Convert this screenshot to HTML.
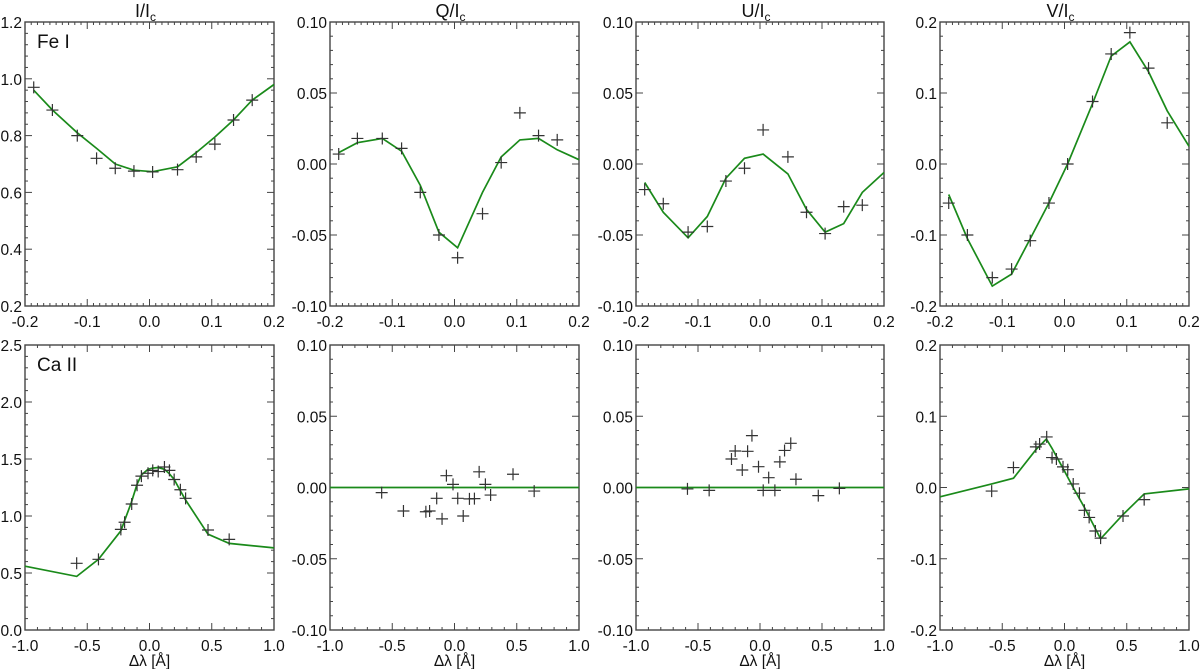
<!DOCTYPE html>
<html><head><meta charset="utf-8"><style>
body{margin:0;background:#fff;}
svg{display:block;font-family:"Liberation Sans",Arial,sans-serif;}
</style></head><body>
<svg id="fig" width="1200" height="669" viewBox="0 0 1200 669" xmlns="http://www.w3.org/2000/svg"></svg>
<script>
// ---- data ----
const feX = [-0.186,-0.156,-0.116,-0.085,-0.055,-0.025,0.005,0.045,0.075,0.105,0.135,0.165];
const feLineX = [-0.186,-0.156,-0.116,-0.085,-0.055,-0.025,0.005,0.045,0.075,0.105,0.135,0.165,0.2];
const feIobs = [0.97,0.89,0.80,0.72,0.685,0.675,0.672,0.68,0.725,0.77,0.855,0.925];
const feIfit = [0.96,0.89,0.81,0.755,0.70,0.678,0.673,0.69,0.74,0.795,0.855,0.925,0.98];
const feQobs = [0.007,0.018,0.018,0.011,-0.02,-0.05,-0.066,-0.035,0.001,0.036,0.02,0.017];
const feQfit = [0.008,0.015,0.018,0.009,-0.015,-0.048,-0.059,-0.02,0.005,0.017,0.018,0.01,0.003];
const feUobs = [-0.018,-0.028,-0.048,-0.044,-0.012,-0.003,0.024,0.005,-0.034,-0.049,-0.030,-0.029];
const feUfit = [-0.013,-0.034,-0.052,-0.037,-0.010,0.004,0.007,-0.007,-0.032,-0.048,-0.042,-0.020,-0.006];
const feVobs = [-0.055,-0.1,-0.16,-0.148,-0.108,-0.055,0.0,0.088,0.155,0.185,0.135,0.058];
const feVobsX = [-0.186,-0.156,-0.116,-0.085,-0.055,-0.025,0.005,0.045,0.075,0.105,0.135,0.165];
const feVfit = [-0.043,-0.105,-0.172,-0.155,-0.105,-0.055,0.0,0.085,0.152,0.172,0.13,0.075,0.025];

const caX = [-0.585,-0.41,-0.23,-0.2,-0.143,-0.1,-0.065,-0.012,0.026,0.07,0.12,0.16,0.198,0.248,0.29,0.47,0.64];
const caIobs = [0.585,0.62,0.883,0.945,1.105,1.27,1.35,1.375,1.40,1.39,1.43,1.40,1.32,1.23,1.155,0.877,0.795];
const caIlineX = [-1,-0.585,-0.41,-0.23,-0.2,-0.145,-0.1,-0.065,-0.012,0.026,0.07,0.12,0.16,0.198,0.248,0.29,0.47,0.64,1.0];
const caIfit = [0.56,0.47,0.62,0.87,0.96,1.12,1.28,1.36,1.41,1.42,1.425,1.41,1.37,1.32,1.22,1.14,0.84,0.76,0.72];
const caQobs = [-0.0036,-0.0165,-0.017,-0.0165,-0.0076,-0.022,0.0083,0.0022,-0.0076,-0.020,-0.008,-0.0078,0.011,0.0022,-0.0053,0.0093,-0.0025];
const caUobs = [-0.001,-0.002,0.020,0.0256,0.0123,0.0254,0.0364,0.0146,-0.002,0.0069,-0.002,0.018,0.026,0.031,0.0058,-0.0057,-0.0006];
const caFlatX = [-1,1];
const caQfit = [0,0];
const caUfit = [0,0];
const caVobs = [-0.005,0.028,0.057,0.061,0.071,0.042,0.040,0.029,0.025,0.005,-0.008,-0.032,-0.042,-0.061,-0.071,-0.040,-0.017];
const caVlineX = [-1,-0.585,-0.41,-0.23,-0.145,-0.1,-0.012,0.07,0.16,0.29,0.47,0.64,1.0];
const caVfit = [-0.013,0.005,0.013,0.053,0.068,0.055,0.027,0.0,-0.028,-0.072,-0.038,-0.009,-0.002];

const titles = ["I/I","Q/I","U/I","V/I"];
const colL = [25,330,636,940], colR = [274,579,884,1189];
const rowT = [22,345], rowB = [306,630];

const NS="http://www.w3.org/2000/svg";
const svg=document.getElementById('fig');
function el(tag,attrs,parent){const e=document.createElementNS(NS,tag);for(const k in attrs)e.setAttribute(k,attrs[k]);(parent||svg).appendChild(e);return e;}

const panels = [
 {r:0,c:0,name:'fe-i',x0:-0.2,x1:0.2,xmaj:0.1,xmin:10,xdec:1,y0:0.2,y1:1.2,ymaj:0.2,ymin:5,ydec:1,ox:feX,oy:feIobs,lx:feLineX,ly:feIfit,label:'Fe I'},
 {r:0,c:1,name:'fe-q',x0:-0.2,x1:0.2,xmaj:0.1,xmin:10,xdec:1,y0:-0.1,y1:0.1,ymaj:0.05,ymin:5,ydec:2,ox:feX,oy:feQobs,lx:feLineX,ly:feQfit},
 {r:0,c:2,name:'fe-u',x0:-0.2,x1:0.2,xmaj:0.1,xmin:10,xdec:1,y0:-0.1,y1:0.1,ymaj:0.05,ymin:5,ydec:2,ox:feX,oy:feUobs,lx:feLineX,ly:feUfit},
 {r:0,c:3,name:'fe-v',x0:-0.2,x1:0.2,xmaj:0.1,xmin:10,xdec:1,y0:-0.2,y1:0.2,ymaj:0.1,ymin:5,ydec:1,ox:feVobsX,oy:feVobs,lx:feLineX,ly:feVfit},
 {r:1,c:0,name:'ca-i',x0:-1,x1:1,xmaj:0.5,xmin:5,xdec:1,y0:0,y1:2.5,ymaj:0.5,ymin:5,ydec:1,ox:caX,oy:caIobs,lx:caIlineX,ly:caIfit,label:'Ca II'},
 {r:1,c:1,name:'ca-q',x0:-1,x1:1,xmaj:0.5,xmin:5,xdec:1,y0:-0.1,y1:0.1,ymaj:0.05,ymin:5,ydec:2,ox:caX,oy:caQobs,lx:caFlatX,ly:caQfit},
 {r:1,c:2,name:'ca-u',x0:-1,x1:1,xmaj:0.5,xmin:5,xdec:1,y0:-0.1,y1:0.1,ymaj:0.05,ymin:5,ydec:2,ox:caX,oy:caUobs,lx:caFlatX,ly:caUfit},
 {r:1,c:3,name:'ca-v',x0:-1,x1:1,xmaj:0.5,xmin:5,xdec:1,y0:-0.2,y1:0.2,ymaj:0.1,ymin:5,ydec:1,ox:caX,oy:caVobs,lx:caVlineX,ly:caVfit}
];

const AX='#444';
panels.forEach(p=>{
  const L=colL[p.c],R=colR[p.c],T=rowT[p.r],B=rowB[p.r];
  const sx=v=>L+(v-p.x0)/(p.x1-p.x0)*(R-L);
  const sy=v=>B-(v-p.y0)/(p.y1-p.y0)*(B-T);
  const g=el('g',{});
  
  
  const nx=Math.round((p.x1-p.x0)/p.xmaj*p.xmin);
  for(let i=0;i<=nx;i++){
    const v=p.x0+i*(p.x1-p.x0)/nx, X=sx(v), maj=i%p.xmin===0, len=maj?7:3;
    el('line',{x1:X,y1:B,x2:X,y2:B-len,stroke:AX,'stroke-width':1},g);
    el('line',{x1:X,y1:T,x2:X,y2:T+len,stroke:AX,'stroke-width':1},g);
    if(maj){const t=el('text',{x:X,y:B+21,'font-size':15.5,'text-anchor':'middle',fill:'#111'},g);
      
      t.textContent=(Math.abs(v)<1e-9?0:v).toFixed(p.xdec);}
  }
  const ny=Math.round((p.y1-p.y0)/p.ymaj*p.ymin);
  for(let i=0;i<=ny;i++){
    const v=p.y0+i*(p.y1-p.y0)/ny, Y=sy(v), maj=i%p.ymin===0, len=maj?7:3;
    el('line',{x1:L,y1:Y,x2:L+len,y2:Y,stroke:AX,'stroke-width':1},g);
    el('line',{x1:R,y1:Y,x2:R-len,y2:Y,stroke:AX,'stroke-width':1},g);
    if(maj){const t=el('text',{x:L-3,y:Y+6,'font-size':15.5,'text-anchor':'end',fill:'#111'},g);
      
      t.textContent=(Math.abs(v)<1e-9?0:v).toFixed(p.ydec);}
  }
  const fr=el('rect',{x:L,y:T,width:R-L,height:B-T,fill:'none',stroke:AX,'stroke-width':1.4},g);
  
  const pts=p.lx.map((x,i)=>sx(x).toFixed(1)+','+sy(p.ly[i]).toFixed(1)).join(' ');
  const pl=el('polyline',{points:pts,fill:'none',stroke:'#1a8a1a','stroke-width':1.7},g);
  
  p.ox.forEach((x,i)=>{
    const X=sx(x),Y=sy(p.oy[i]);
    const m=el('path',{d:`M${X-6},${Y}H${X+6}M${X},${Y-6}V${Y+6}`,stroke:'#333','stroke-width':1.2,fill:'none'},g);
    
  });
  if(p.label){const t=el('text',{x:L+12,y:T+26,'font-size':19,fill:'#111'},g);
    t.textContent=p.label;}
  if(p.r===0){const t=el('text',{x:(L+R)/2-4,y:T-5,'font-size':18,'text-anchor':'middle',fill:'#111'},g);
    
    t.textContent=titles[p.c];
    const s=el('tspan',{'font-size':12,dy:4},t);s.textContent='c';}
  if(p.r===1){const t=el('text',{x:(L+R)/2,y:B+36,'font-size':15.5,'text-anchor':'middle',fill:'#111'},g);
    
    t.textContent='Δλ [Å]';}
});
</script>
</body></html>
